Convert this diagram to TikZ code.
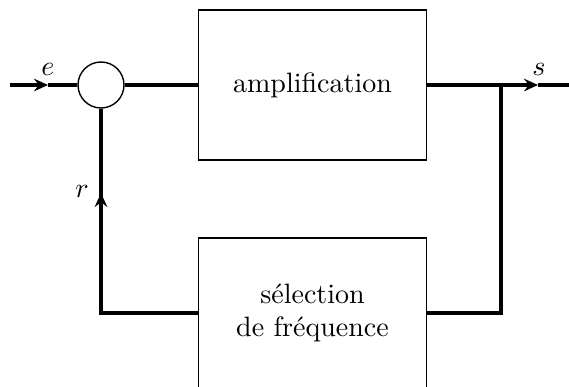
\documentclass[tikz,border=0pt]{standalone}
\usetikzlibrary{arrows.meta}
\begin{document}
\begin{tikzpicture}[x=0.357pt,y=-0.357pt,
  blockbox/.style={draw,line width=0.5pt,minimum width=228*0.357pt,minimum height=150*0.357pt,align=center,inner sep=0pt},
  sumnode/.style={draw,circle,line width=0.5pt,minimum size=46*0.357pt,inner sep=0pt},
  wire/.style={line width=1.1pt},
  arr/.style={wire,-{Stealth[length=5pt,width=4.5pt,inset=1.7pt]}}]
\useasboundingbox (0,0) rectangle (569,387);
\node[sumnode] (sum) at (101,85) {};
\node[blockbox] (amp) at (312.5,85) {amplification};
\node[blockbox] (sel) at (312.5,313) {s\'election\\de fr\'equence};
\coordinate (in) at (10,85);
\coordinate (ein) at (48,85);
\coordinate (out) at (569,85);
\coordinate (sout) at (538,85);
\coordinate (br) at (501,85);
\coordinate (brd) at (501,313);
\coordinate (fbl) at (101,313);
\coordinate (rarr) at (101,193);
\node (e) at (48,69) {$e$};
\node (s) at (539,69) {$s$};
\node (r) at (82,191) {$r$};
\draw[arr] (in) -- (ein);
\draw[wire] (ein) -- (sum.west);
\draw[wire] (sum.east) -- (amp.west);
\draw[arr] (amp.east) -- (sout);
\draw[wire] (sout) -- (out);
\draw[wire] (br) -- (brd) -- (sel.east);
\draw[wire] (sel.west) -- (fbl) -- (rarr);
\draw[arr] (fbl) -- (rarr);
\draw[wire] (rarr) -- (sum.south);
\end{tikzpicture}
\end{document}
